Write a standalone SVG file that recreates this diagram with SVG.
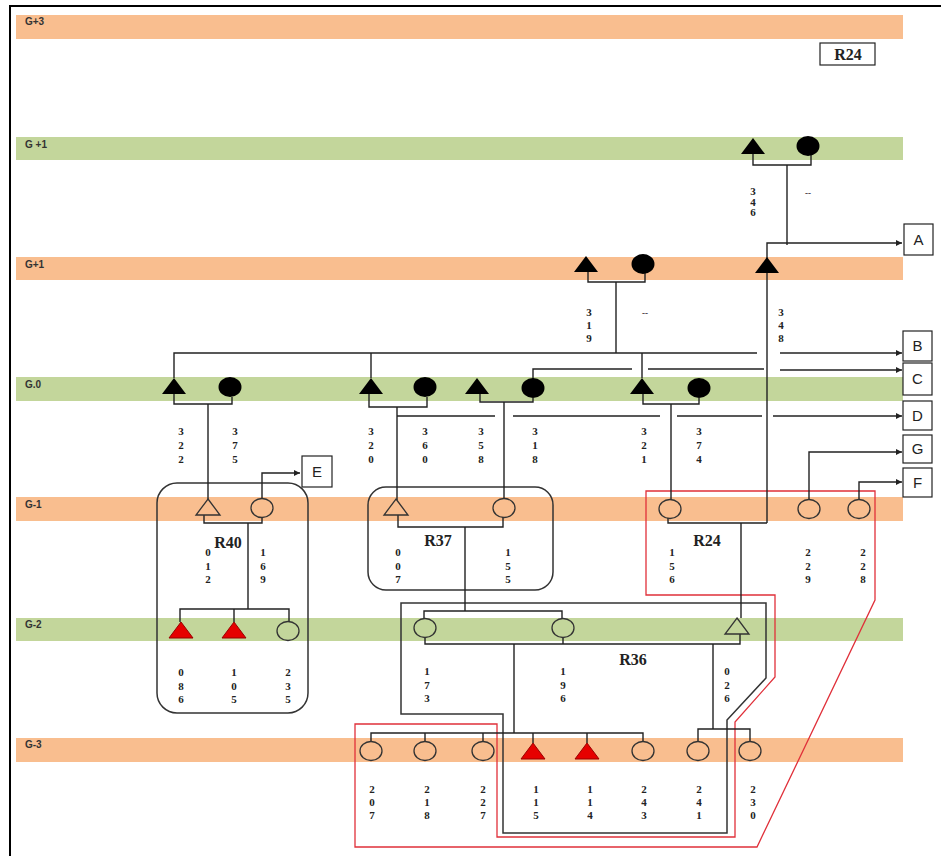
<svg xmlns="http://www.w3.org/2000/svg" xmlns:xlink="http://www.w3.org/1999/xlink" width="941" height="856" viewBox="0 0 941 856">
<style>
.bo{fill:#F9BE8F}
.bg{fill:#C3D69B}
.bl{font-family:"Liberation Sans",Arial,sans-serif;font-size:10px;font-weight:bold;fill:#333}
.dg{font-family:"Liberation Serif","Times New Roman",serif;font-size:11px;font-weight:bold;fill:#222;text-anchor:middle}
.rl{font-family:"Liberation Serif","Times New Roman",serif;font-size:16px;font-weight:bold;fill:#222;text-anchor:middle}
.lt{font-family:"Liberation Sans",Arial,sans-serif;font-size:15px;fill:#222;text-anchor:middle}
.bx{fill:#fff;stroke:#222;stroke-width:1.2}
.ln{fill:none;stroke:#222;stroke-width:1.4}
.red{fill:none;stroke:#E0303A;stroke-width:1.3}
.blk{fill:#000}
.out{fill:none;stroke:#333;stroke-width:1.3}
.rt{fill:#E60000;stroke:#900;stroke-width:1}
.grp{fill:none;stroke:#333;stroke-width:1.5}
</style>
<defs>
<path id="tri" d="M0,0 L12,16 L-12,16 Z"/>
<ellipse id="circ" cx="0" cy="0" rx="11" ry="9.5"/>
<ellipse id="dot" cx="0" cy="0" rx="11.5" ry="10"/>
<marker id="ar" markerUnits="userSpaceOnUse" markerWidth="7" markerHeight="7" refX="6" refY="3" orient="auto">
<path d="M0,0 L6,3 L0,6 Z" fill="#222"/>
</marker>
</defs>
<rect width="941" height="856" fill="#fff"/>
<path d="M10,856 V6 H941" fill="none" stroke="#000" stroke-width="2"/>

<g id="bands">
<rect class="bo" x="16" y="15" width="887" height="24"/>
<rect class="bg" x="16" y="137" width="887" height="23"/>
<rect class="bo" x="16" y="257" width="887" height="23"/>
<rect class="bg" x="16" y="377" width="887" height="24"/>
<rect class="bo" x="16" y="497" width="887" height="24"/>
<rect class="bg" x="16" y="618" width="887" height="23"/>
<rect class="bo" x="16" y="738" width="887" height="24"/>
<text class="bl" x="25" y="25">G+3</text>
<text class="bl" x="25" y="148">G +1</text>
<text class="bl" x="25" y="268">G+1</text>
<text class="bl" x="25" y="388">G.0</text>
<text class="bl" x="25" y="508">G-1</text>
<text class="bl" x="25" y="628">G-2</text>
<text class="bl" x="25" y="748">G-3</text>
</g>

<g id="groups">
<rect id="R40-box" class="grp" x="157" y="483" width="151" height="230" rx="20"/>
<rect id="R37-box" class="grp" x="368" y="487" width="185" height="103" rx="18"/>
<path id="R36-outline" class="grp" d="M401,603 H766 V678 L727,720 V833 H503 V714 H401 Z"/>
<path id="R24-outline" class="red" d="M646,491 H875 V600 L757,847 H355 V724 H497 V837 H735 V722 L775,677 V595 H646 Z"/>
</g>

<g id="connectors">
<path class="ln" d="M753,154 V165 H811 V155"/>
<path class="ln" d="M787,165 V245"/>
<path class="ln" d="M767,523 V243 H902" marker-end="url(#ar)"/>
<path class="ln" d="M588,272 V282 H645 V273"/>
<path class="ln" d="M616,282 V353"/>
<path class="ln" d="M174,378 V353 H757"/>
<path class="ln" d="M780,353 H902" marker-end="url(#ar)"/>
<path class="ln" d="M371,353 V378 M642,353 V378"/>
<path class="ln" d="M533,379 V369 H632 M648,369 H764"/>
<path class="ln" d="M780,370 H902" marker-end="url(#ar)"/>
<path class="ln" d="M397,416 H495 M513,416 H660 M677,416 H762"/>
<path class="ln" d="M773,416 H902" marker-end="url(#ar)"/>
<path class="ln" d="M174,394 V404 H232 V397 M208,404 V500"/>
<path class="ln" d="M369,394 V407 H427 V397 M397,407 V500"/>
<path class="ln" d="M480,394 V402 H533 V398 M504,402 V499"/>
<path class="ln" d="M643,394 V404 H699 V398 M671,404 V500"/>
<path class="ln" d="M204,515 V523 H262 V517 M248,523 V609 M180,622 V609 H289 V622 M234,609 V622"/>
<path class="ln" d="M262,499 V473 H300" marker-end="url(#ar)"/>
<path class="ln" d="M398,515 V527 H503 V517 M465,527 V611"/>
<path class="ln" d="M668,518 V523 H767 M741,523 V618"/>
<path class="ln" d="M809,500 V452 H902" marker-end="url(#ar)"/>
<path class="ln" d="M859,500 V482 H902" marker-end="url(#ar)"/>
<path class="ln" d="M424,619 V611 H562 V619"/>
<path class="ln" d="M425,637 V644 H740 V634 M563,637 V644 M514,644 V733 M713,644 V729"/>
<path class="ln" d="M371,742 V733 H643 V742 M425,733 V742 M483,733 V742 M533,733 V743 M587,733 V743"/>
<path class="ln" d="M698,742 V729 H750 V742"/>
</g>

<g id="G2-346">
<use href="#tri" class="blk" x="753" y="138"/>
<use href="#dot" class="blk" x="808" y="146"/>
<text class="dg" x="753" y="195">3<tspan x="753" dy="10.5">4</tspan><tspan x="753" dy="10.5">6</tspan></text>
<text class="dg" x="808" y="196" style="font-size:9px">--</text>
</g>
<g id="G1-319">
<use href="#tri" class="blk" x="586" y="256"/>
<use href="#dot" class="blk" x="643" y="264"/>
<text class="dg" x="589" y="316">3<tspan x="589" dy="13">1</tspan><tspan x="589" dy="13">9</tspan></text>
<text class="dg" x="645" y="316" style="font-size:9px">--</text>
</g>
<g id="G1-348">
<use href="#tri" class="blk" x="767" y="257"/>
<text class="dg" x="781" y="316">3<tspan x="781" dy="13">4</tspan><tspan x="781" dy="13">8</tspan></text>
</g>

<g id="G0-322-375">
<use href="#tri" class="blk" x="174" y="378"/>
<use href="#dot" class="blk" x="230" y="387"/>
<text class="dg" x="181" y="435">3<tspan x="181" dy="14">2</tspan><tspan x="181" dy="14">2</tspan></text>
<text class="dg" x="235" y="435">3<tspan x="235" dy="14">7</tspan><tspan x="235" dy="14">5</tspan></text>
</g>
<g id="G0-320-360">
<use href="#tri" class="blk" x="371" y="378"/>
<use href="#dot" class="blk" x="425" y="387"/>
<text class="dg" x="371" y="435">3<tspan x="371" dy="14">2</tspan><tspan x="371" dy="14">0</tspan></text>
<text class="dg" x="425" y="435">3<tspan x="425" dy="14">6</tspan><tspan x="425" dy="14">0</tspan></text>
</g>
<g id="G0-358-318">
<use href="#tri" class="blk" x="477" y="378"/>
<use href="#dot" class="blk" x="533" y="388"/>
<text class="dg" x="481" y="435">3<tspan x="481" dy="14">5</tspan><tspan x="481" dy="14">8</tspan></text>
<text class="dg" x="535" y="435">3<tspan x="535" dy="14">1</tspan><tspan x="535" dy="14">8</tspan></text>
</g>
<g id="G0-321-374">
<use href="#tri" class="blk" x="642" y="378"/>
<use href="#dot" class="blk" x="699" y="388"/>
<text class="dg" x="644" y="435">3<tspan x="644" dy="14">2</tspan><tspan x="644" dy="14">1</tspan></text>
<text class="dg" x="699" y="435">3<tspan x="699" dy="14">7</tspan><tspan x="699" dy="14">4</tspan></text>
</g>

<g id="R40">
<use href="#tri" class="out" x="208" y="499"/>
<use href="#circ" class="out" x="262" y="508"/>
<text class="rl" x="228" y="548">R40</text>
<text class="dg" x="208" y="556">0<tspan x="208" dy="13.5">1</tspan><tspan x="208" dy="13.5">2</tspan></text>
<text class="dg" x="263" y="556">1<tspan x="263" dy="13.5">6</tspan><tspan x="263" dy="13.5">9</tspan></text>
<use href="#tri" class="rt" x="181" y="622"/>
<use href="#tri" class="rt" x="234" y="622"/>
<use href="#circ" class="out" x="288" y="631"/>
<text class="dg" x="181" y="676">0<tspan x="181" dy="13.5">8</tspan><tspan x="181" dy="13.5">6</tspan></text>
<text class="dg" x="234" y="676">1<tspan x="234" dy="13.5">0</tspan><tspan x="234" dy="13.5">5</tspan></text>
<text class="dg" x="288" y="676">2<tspan x="288" dy="13.5">3</tspan><tspan x="288" dy="13.5">5</tspan></text>
</g>

<g id="R37">
<use href="#tri" class="out" x="396" y="499"/>
<use href="#circ" class="out" x="504" y="508"/>
<text class="rl" x="438" y="546">R37</text>
<text class="dg" x="398" y="556">0<tspan x="398" dy="13.5">0</tspan><tspan x="398" dy="13.5">7</tspan></text>
<text class="dg" x="508" y="556">1<tspan x="508" dy="13.5">5</tspan><tspan x="508" dy="13.5">5</tspan></text>
</g>

<g id="R24-G1">
<use href="#circ" class="out" x="670" y="509"/>
<use href="#circ" class="out" x="809" y="509"/>
<use href="#circ" class="out" x="859" y="509"/>
<text class="rl" x="707" y="546">R24</text>
<text class="dg" x="672" y="556">1<tspan x="672" dy="13.5">5</tspan><tspan x="672" dy="13.5">6</tspan></text>
<text class="dg" x="808" y="556">2<tspan x="808" dy="13.5">2</tspan><tspan x="808" dy="13.5">9</tspan></text>
<text class="dg" x="863" y="556">2<tspan x="863" dy="13.5">2</tspan><tspan x="863" dy="13.5">8</tspan></text>
</g>

<g id="R36">
<use href="#circ" class="out" x="425" y="628"/>
<use href="#circ" class="out" x="563" y="628"/>
<use href="#tri" class="out" x="737" y="618"/>
<text class="rl" x="633" y="665">R36</text>
<text class="dg" x="427" y="675">1<tspan x="427" dy="13.5">7</tspan><tspan x="427" dy="13.5">3</tspan></text>
<text class="dg" x="563" y="675">1<tspan x="563" dy="13.5">9</tspan><tspan x="563" dy="13.5">6</tspan></text>
<text class="dg" x="727" y="675">0<tspan x="727" dy="13.5">2</tspan><tspan x="727" dy="13.5">6</tspan></text>
</g>

<g id="G3">
<use href="#circ" class="out" x="371" y="751"/>
<use href="#circ" class="out" x="425" y="751"/>
<use href="#circ" class="out" x="483" y="751"/>
<use href="#tri" class="rt" x="533" y="743"/>
<use href="#tri" class="rt" x="587" y="743"/>
<use href="#circ" class="out" x="643" y="751"/>
<use href="#circ" class="out" x="698" y="751"/>
<use href="#circ" class="out" x="750" y="751"/>
<text class="dg" x="372" y="793">2<tspan x="372" dy="13">0</tspan><tspan x="372" dy="13">7</tspan></text>
<text class="dg" x="427" y="793">2<tspan x="427" dy="13">1</tspan><tspan x="427" dy="13">8</tspan></text>
<text class="dg" x="483" y="793">2<tspan x="483" dy="13">2</tspan><tspan x="483" dy="13">7</tspan></text>
<text class="dg" x="536" y="793">1<tspan x="536" dy="13">1</tspan><tspan x="536" dy="13">5</tspan></text>
<text class="dg" x="590" y="793">1<tspan x="590" dy="13">1</tspan><tspan x="590" dy="13">4</tspan></text>
<text class="dg" x="644" y="793">2<tspan x="644" dy="13">4</tspan><tspan x="644" dy="13">3</tspan></text>
<text class="dg" x="699" y="793">2<tspan x="699" dy="13">4</tspan><tspan x="699" dy="13">1</tspan></text>
<text class="dg" x="753" y="793">2<tspan x="753" dy="13">3</tspan><tspan x="753" dy="13">0</tspan></text>
</g>

<g id="R24-title">
<rect class="bx" x="820" y="43" width="55" height="22"/>
<text class="rl" x="848" y="60">R24</text>
</g>
<g id="box-A"><rect class="bx" x="904" y="224" width="29" height="31"/><text class="lt" x="918.5" y="245">A</text></g>
<g id="box-B"><rect class="bx" x="903" y="331" width="29" height="30"/><text class="lt" x="917.5" y="351">B</text></g>
<g id="box-C"><rect class="bx" x="903" y="363" width="29" height="32"/><text class="lt" x="917.5" y="384">C</text></g>
<g id="box-D"><rect class="bx" x="903" y="401" width="29" height="29"/><text class="lt" x="917.5" y="421">D</text></g>
<g id="box-G"><rect class="bx" x="903" y="435" width="29" height="28"/><text class="lt" x="917.5" y="454">G</text></g>
<g id="box-F"><rect class="bx" x="903" y="468" width="29" height="29"/><text class="lt" x="917.5" y="488">F</text></g>
<g id="box-E"><rect class="bx" x="302" y="456" width="30" height="31"/><text class="lt" x="317" y="477">E</text></g>
</svg>
